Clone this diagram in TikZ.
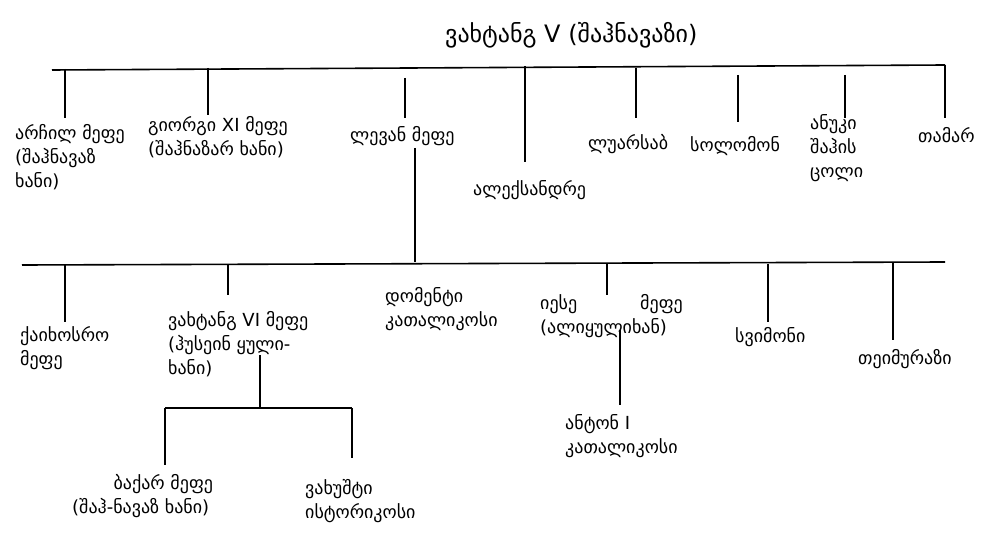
\documentclass[tikz,border=0pt]{standalone}
\usepackage{fontspec}
\newfontfamily\geo{DejaVu Sans}
\begin{document}
\begin{tikzpicture}[x=1pt,y=-1pt,
 lbl/.style={anchor=north west,inner sep=0pt,align=left,font=\geo\fontsize{18}{24}\selectfont},
 ln/.style={draw=black,line width=1.6pt}]
\useasboundingbox (0,0) rectangle (1000,545);
\node[lbl,anchor=north west,font=\geo\fontsize{24}{24}\selectfont] (t) at (445,22) {ვახტანგ V (შაჰნავაზი)};
\coordinate (a1) at (52,70); \coordinate (a2) at (945,65);
\draw[ln] (a1)--(a2);
\foreach \x/\ya/\yb in {65/69/118,208/68/115,405/78/118,525/66/162,636/68/118,738/75/122,845/75/118,945/65/118}
  \draw[ln] (\x,\ya)--(\x,\yb);
\node[lbl] (n1) at (15,124) {არჩილ მეფე\\(შაჰნავაზ\\ხანი)};
\node[lbl] (n2) at (148,116) {გიორგი XI მეფე\\(შაჰნაზარ ხანი)};
\node[lbl] (n3) at (350,126) {ლევან მეფე};
\node[lbl] (n4) at (473,180) {ალექსანდრე};
\node[lbl] (n5) at (588,134) {ლუარსაბ};
\node[lbl] (n6) at (690,136) {სოლომონ};
\node[lbl] (n7) at (810,114) {ანუკი\\შაჰის\\ცოლი};
\node[lbl] (n8) at (918,127) {თამარ};
\draw[ln] (415,148)--(415,262);
\draw[ln] (22,265)--(945,262);
\foreach \x/\ya/\yb in {65/265/322,228/265/295,607/264/295,768/264/322,893/263/340}
  \draw[ln] (\x,\ya)--(\x,\yb);
\node[lbl] (m1) at (20,326) {ქაიხოსრო\\მეფე};
\node[lbl] (m2) at (168,311) {ვახტანგ VI მეფე\\(ჰუსეინ ყული-\\ხანი)};
\node[lbl] (m3) at (385,287) {დომენტი\\კათალიკოსი};
\node[lbl] (m4) at (540,294) {იესე\hspace{3.5em}მეფე\\(ალიყულიხან)};
\node[lbl] (m5) at (735,327) {სვიმონი};
\node[lbl] (m6) at (858,349) {თეიმურაზი};
\draw[ln] (260,355)--(260,408);
\draw[ln] (165,408)--(352,408);
\draw[ln] (165,408)--(165,465);
\draw[ln] (352,408)--(352,458);
\node[lbl] (k1) at (72,474) {\hspace{2.3em}ბაქარ მეფე\\(შაჰ-ნავაზ ხანი)};
\node[lbl] (k2) at (305,479) {ვახუშტი\\ისტორიკოსი};
\draw[ln] (620,330)--(620,405);
\node[lbl] (k3) at (565,414) {ანტონ I\\კათალიკოსი};
\end{tikzpicture}
\end{document}
